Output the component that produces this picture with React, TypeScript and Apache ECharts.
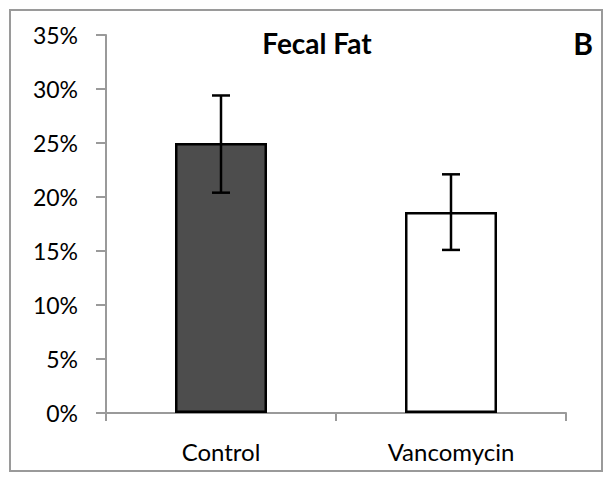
import React, { useEffect, useRef } from "react";
import * as echarts from "echarts";

const categories = ["Control", "Vancomycin"];
const means = [25.0, 18.6];
const errLow = [20.4, 15.1];
const errHigh = [29.4, 22.1];
const barColors = ["#4d4d4d", "#ffffff"];
const yTicks = [0, 5, 10, 15, 20, 25, 30, 35];

export default function App() {
  const ref = useRef<HTMLDivElement>(null);
  useEffect(() => {
    const chart = echarts.init(ref.current!, null, { renderer: "svg" });
    const font = "Lato, 'Open Sans', sans-serif";
    chart.setOption({
      animation: false,
      backgroundColor: "#ffffff",
      graphic: [
        {
          type: "rect",
          shape: { x: 10, y: 10, width: 592, height: 461 },
          style: { fill: "none", stroke: "#9a9a9a", lineWidth: 2 },
          z: -1,
        },
        {
          type: "text",
          x: 317,
          y: 43,
          style: {
            text: "Fecal Fat",
            fontFamily: font,
            fontWeight: "bold",
            fontSize: 28,
            fill: "#000",
            align: "center",
            verticalAlign: "middle",
          },
        },
        {
          type: "text",
          x: 583,
          y: 43,
          style: {
            text: "B",
            fontFamily: font,
            fontWeight: "bold",
            fontSize: 30,
            fill: "#000",
            align: "center",
            verticalAlign: "middle",
          },
        },
      ],
      grid: { left: 106, top: 35, right: 48, bottom: 69, containLabel: false },
      xAxis: {
        type: "category",
        data: categories,
        axisLine: { lineStyle: { color: "#9a9a9a", width: 2 } },
        axisTick: { show: true, length: 8, lineStyle: { color: "#9a9a9a", width: 2 } },
        axisLabel: { fontFamily: font, fontSize: 24, color: "#000", margin: 26 },
      },
      yAxis: {
        type: "value",
        min: 0,
        max: 35,
        interval: 5,
        splitLine: { show: false },
        axisLine: { show: true, lineStyle: { color: "#9a9a9a", width: 2 } },
        axisTick: { show: true, length: 10, lineStyle: { color: "#9a9a9a", width: 2 } },
        axisLabel: {
          fontFamily: font,
          fontSize: 23,
          color: "#000",
          margin: 28,
          padding: [6, 0, 0, 0],
          formatter: (v: number) => (yTicks.includes(v) ? v + "%" : ""),
        },
      },
      series: [
        {
          type: "bar",
          barWidth: "40%",
          data: means.map((v, i) => ({
            value: v,
            itemStyle: { color: barColors[i], borderColor: "#000", borderWidth: 2.5 },
          })),
        },
        {
          type: "custom",
          data: categories.map((_, i) => [i, errLow[i], errHigh[i]]),
          renderItem: (params: any, api: any) => {
            const x = api.value(0);
            const lo = api.coord([x, api.value(1)]);
            const hi = api.coord([x, api.value(2)]);
            const cap = 9;
            const style = { stroke: "#000", lineWidth: 2.5 };
            return {
              type: "group",
              children: [
                { type: "line", shape: { x1: hi[0], y1: hi[1], x2: lo[0], y2: lo[1] }, style },
                { type: "line", shape: { x1: hi[0] - cap, y1: hi[1], x2: hi[0] + cap, y2: hi[1] }, style },
                { type: "line", shape: { x1: lo[0] - cap, y1: lo[1], x2: lo[0] + cap, y2: lo[1] }, style },
              ],
            };
          },
          z: 10,
        },
      ],
    });
    return () => chart.dispose();
  }, []);
  return (
    <div
      ref={ref}
      style={{ position: "fixed", left: 0, top: 0, width: 614, height: 482 }}
    />
  );
}
